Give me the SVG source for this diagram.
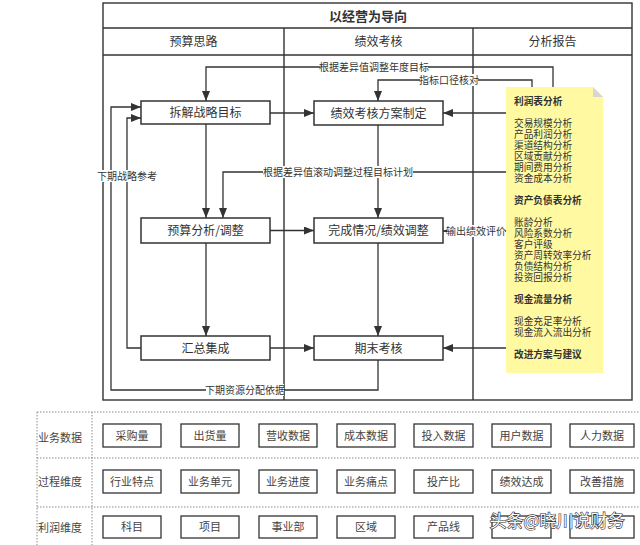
<svg xmlns="http://www.w3.org/2000/svg" width="640" height="545" viewBox="0 0 640 545">
<defs>
<marker id="arr" markerUnits="userSpaceOnUse" markerWidth="10" markerHeight="8" refX="10" refY="4" orient="auto">
<path d="M0,0 L10,4 L0,8 z" fill="#333"/>
</marker>
<style>
text{font-family:"Noto Sans CJK SC","Liberation Sans",sans-serif;fill:#333}
.frame{fill:none;stroke:#333;stroke-width:1.4}
.node rect{fill:#fff;stroke:#333;stroke-width:1.5}
.node text{font-size:12px;text-anchor:middle}
.edge path{fill:none;stroke:#333;stroke-width:1.3;marker-end:url(#arr)}
.lbl rect{fill:#fff}
.lbl text{font-size:10px;text-anchor:middle}
.note text{font-size:9.7px}
.note .b{font-weight:bold}
.dot{fill:none;stroke:#888;stroke-width:1;stroke-dasharray:1.5 1.5}
.cell rect{fill:#fff;stroke:#333;stroke-width:1.3}
.cell text{font-size:11px;text-anchor:middle;fill:#444}
.rowlbl{font-size:11px;fill:#444}
</style>
</defs>
<rect width="640" height="545" fill="#fff"/>

<g id="frame">
<rect class="frame" x="103" y="3" width="529" height="397"/>
<line class="frame" x1="103" y1="28" x2="632" y2="28"/>
<line class="frame" x1="103" y1="55" x2="632" y2="55"/>
<line class="frame" x1="284" y1="28" x2="284" y2="400"/>
<line class="frame" x1="473" y1="28" x2="473" y2="400"/>
<text x="368" y="20.5" font-size="13" font-weight="bold" text-anchor="middle">以经营为导向</text>
<text x="193.5" y="46" font-size="12" text-anchor="middle">预算思路</text>
<text x="378.5" y="46" font-size="12" text-anchor="middle">绩效考核</text>
<text x="552.5" y="46" font-size="12" text-anchor="middle">分析报告</text>
</g>

<g id="connectors" class="edge">
<path d="M553,87 V67 H206 V101"/>
<path d="M532,87 V80 H378 V101"/>
<path d="M270,113 H314"/>
<path d="M506,113 H443"/>
<path d="M206,124 V218"/>
<path d="M506,172 H223 V218"/>
<path d="M378,125 V218"/>
<path d="M270,230.5 H314"/>
<path d="M506,231 H443"/>
<path d="M206,243 V336"/>
<path d="M378,243 V336"/>
<path d="M270,348 H314"/>
<path d="M506,348 H443"/>
<path d="M141,348 H127 V118 H141"/>
<path d="M378,360 V390 H111 V107 H141"/>
</g>

<g id="labels" class="lbl">
<rect x="320" y="61" width="108" height="12"/><text x="374" y="70.5">根据差异值调整年度目标</text>
<rect x="420" y="74" width="58" height="12"/><text x="449" y="83.5">指标口径核对</text>
<rect x="263" y="166" width="150" height="12"/><text x="338" y="175.5">根据差异值滚动调整过程目标计划</text>
<rect x="447" y="225" width="58" height="12"/><text x="476" y="234.5">输出绩效评价</text>
<rect x="98" y="170" width="58" height="12"/><text x="127" y="179.5">下期战略参考</text>
<rect x="206" y="384" width="78" height="12"/><text x="245" y="393.5">下期资源分配依据</text>
</g>

<g id="n1" class="node"><rect x="141" y="101" width="129" height="23"/><text x="205.5" y="117">拆解战略目标</text></g>
<g id="n2" class="node"><rect x="314" y="101" width="129" height="24"/><text x="378.5" y="117.5">绩效考核方案制定</text></g>
<g id="n3" class="node"><rect x="141" y="218" width="129" height="25"/><text x="205.5" y="235">预算分析/调整</text></g>
<g id="n4" class="node"><rect x="314" y="218" width="129" height="25"/><text x="378.5" y="235">完成情况/绩效调整</text></g>
<g id="n5" class="node"><rect x="141" y="336" width="129" height="24"/><text x="205.5" y="352.5">汇总集成</text></g>
<g id="n6" class="node"><rect x="314" y="336" width="129" height="24"/><text x="378.5" y="352.5">期末考核</text></g>

<g id="note" class="note">
<path d="M506,87 H593 L603,97 V373 H506 Z" fill="#fffaa2"/>
<path d="M593,87 L603,97 H593 Z" fill="#d6d6d6"/>
<text x="514" y="104.5"><tspan x="514" class="b">利润表分析</tspan><tspan x="514" dy="22">交易规模分析</tspan><tspan x="514" dy="11">产品利润分析</tspan><tspan x="514" dy="11">渠道结构分析</tspan><tspan x="514" dy="11">区域贡献分析</tspan><tspan x="514" dy="11">期间费用分析</tspan><tspan x="514" dy="11">资金成本分析</tspan><tspan x="514" dy="22" class="b">资产负债表分析</tspan><tspan x="514" dy="22">账龄分析</tspan><tspan x="514" dy="11">风险系数分析</tspan><tspan x="514" dy="11">客户评级</tspan><tspan x="514" dy="11">资产周转效率分析</tspan><tspan x="514" dy="11">负债结构分析</tspan><tspan x="514" dy="11">投资回报分析</tspan><tspan x="514" dy="22" class="b">现金流量分析</tspan><tspan x="514" dy="22">现金充足率分析</tspan><tspan x="514" dy="11">现金流入流出分析</tspan><tspan x="514" dy="22" class="b">改进方案与建议</tspan></text>
</g>

<g id="table">
<line class="dot" x1="37" y1="412" x2="640" y2="412"/>
<line class="dot" x1="37" y1="458" x2="640" y2="458"/>
<line class="dot" x1="37" y1="507" x2="640" y2="507"/>
<line class="dot" x1="37" y1="412" x2="37" y2="545"/>
<line class="dot" x1="92" y1="412" x2="92" y2="545"/>
<text class="rowlbl" x="38" y="442">业务数据</text>
<text class="rowlbl" x="38" y="486">过程维度</text>
<text class="rowlbl" x="38" y="532">利润维度</text>
</g>

<g id="row1" class="cell">
<rect x="103" y="424" width="58" height="23"/><text x="132" y="439.5">采购量</text>
<rect x="181" y="424" width="58" height="23"/><text x="210" y="439.5">出货量</text>
<rect x="259" y="424" width="58" height="23"/><text x="288" y="439.5">营收数据</text>
<rect x="337" y="424" width="58" height="23"/><text x="366" y="439.5">成本数据</text>
<rect x="414" y="424" width="59" height="23"/><text x="443.5" y="439.5">投入数据</text>
<rect x="492" y="424" width="59" height="23"/><text x="521.5" y="439.5">用户数据</text>
<rect x="570" y="424" width="64" height="23"/><text x="602" y="439.5">人力数据</text>
</g>
<g id="row2" class="cell">
<rect x="103" y="470" width="58" height="23"/><text x="132" y="485.5">行业特点</text>
<rect x="181" y="470" width="58" height="23"/><text x="210" y="485.5">业务单元</text>
<rect x="259" y="470" width="58" height="23"/><text x="288" y="485.5">业务进度</text>
<rect x="337" y="470" width="58" height="23"/><text x="366" y="485.5">业务痛点</text>
<rect x="414" y="470" width="59" height="23"/><text x="443.5" y="485.5">投产比</text>
<rect x="492" y="470" width="59" height="23"/><text x="521.5" y="485.5">绩效达成</text>
<rect x="570" y="470" width="64" height="23"/><text x="602" y="485.5">改善措施</text>
</g>
<g id="row3" class="cell">
<rect x="103" y="516" width="58" height="22"/><text x="132" y="531">科目</text>
<rect x="181" y="516" width="58" height="22"/><text x="210" y="531">项目</text>
<rect x="259" y="516" width="58" height="22"/><text x="288" y="531">事业部</text>
<rect x="337" y="516" width="58" height="22"/><text x="366" y="531">区域</text>
<rect x="414" y="516" width="59" height="22"/><text x="443.5" y="531">产品线</text>
<rect x="492" y="516" width="59" height="22"/>
<rect x="570" y="516" width="64" height="22"/>
</g>

<g id="watermark">
<text x="557" y="527" font-size="17" text-anchor="middle" style="fill:#fafafa;stroke:#333;stroke-width:1.2px;paint-order:stroke">头条@晓川说财务</text>
</g>
</svg>
